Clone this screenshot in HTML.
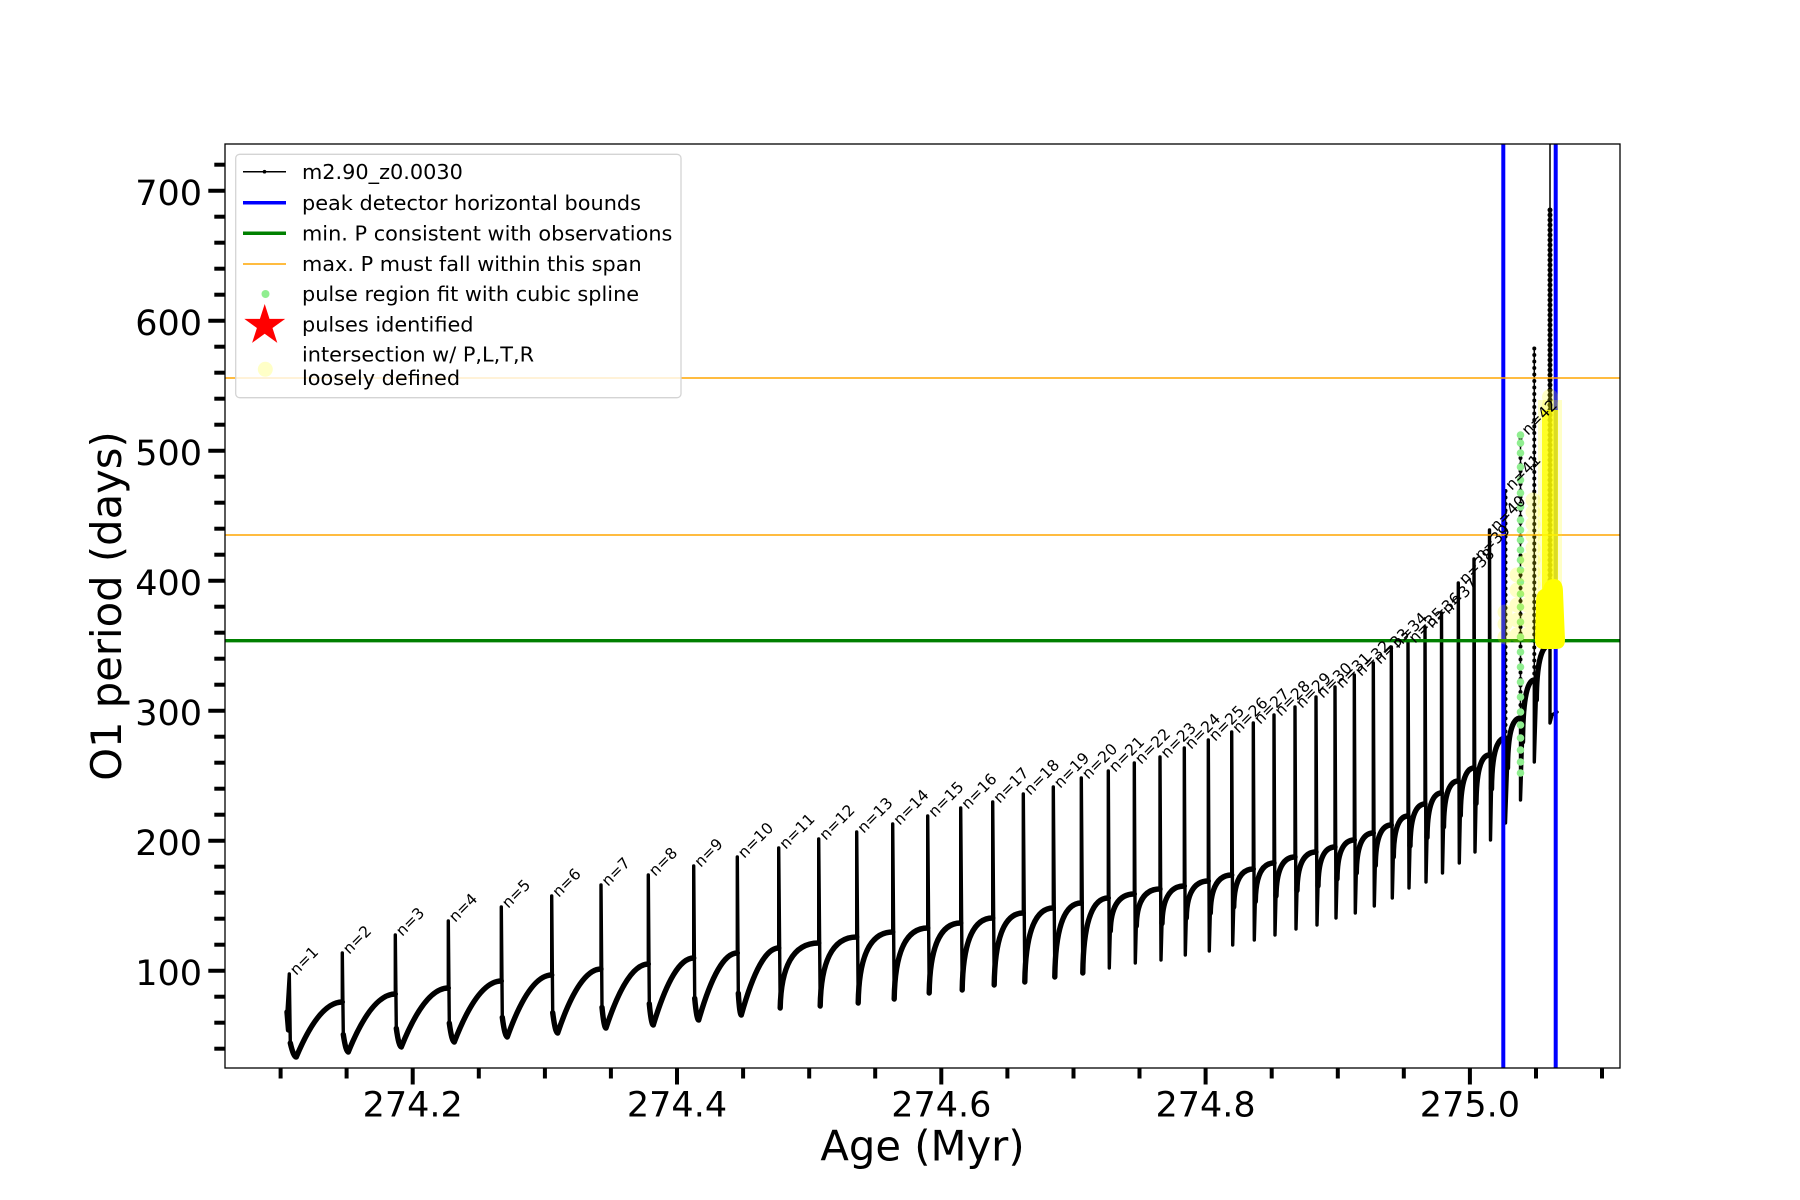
<!DOCTYPE html>
<html>
<head>
<meta charset="utf-8">
<style>
html,body{margin:0;padding:0;background:#fff;}
svg{display:block;}
text{font-family:"DejaVu Sans","Liberation Sans",sans-serif;fill:#000;}
</style>
</head>
<body>
<svg width="1800" height="1200" viewBox="0 0 1800 1200" xmlns="http://www.w3.org/2000/svg">
<defs>
<clipPath id="ax"><rect x="225" y="144" width="1395" height="924"/></clipPath>
</defs>
<rect x="0" y="0" width="1800" height="1200" fill="#fff"/>

<g clip-path="url(#ax)">
<!-- main data path (spikes thinner) -->
<path fill="none" stroke="#000" stroke-width="3.4" stroke-linejoin="round" stroke-linecap="round" d="
M 287,1012
L 289.3,974 L 290.3,1043 Q 293.5,1057 296.3,1057 C 311.6,1020.3 326.9,1002 342.3,1002
L 342.3,953 L 343.3,1034.5 Q 345.9,1052 348.3,1052 C 364,1013.3 379.6,994 395.3,994
L 395.3,935 L 396.3,1028.4 Q 398.9,1047 401.3,1047 C 417,1007.7 432.6,988 448.3,988
L 448.3,921 L 449.3,1023.1 Q 451.9,1042 454.3,1042 C 470,1001.3 485.6,981 501.3,981
L 501.3,907 L 502.3,1017.4 Q 504.9,1037 507.3,1037 C 522.1,995.7 536.9,975 551.7,975
L 551.7,896 L 552.7,1012.7 Q 555.3,1033 557.7,1033 C 572.1,990.3 586.6,969 601,969
L 601,885 L 602,1007.4 Q 604,1028 606,1028 C 620.1,985.3 634.2,964 648.3,964
L 648.3,875 L 649.3,1003.7 Q 651.3,1025 653.3,1025 C 666.8,980.3 680.2,958 693.7,958
L 693.7,866 L 694.7,998.3 Q 696.7,1020 698.7,1020 C 711.6,975.3 724.4,953 737.3,953
L 737.3,857 L 738.3,993.3 Q 739.7,1015 741.3,1015 C 753.8,970.3 766.2,948 778.7,948
L 778.7,848 L 780.2,1008 C 781,969 791.8,943 818.7,943
L 818.7,839 L 820.2,1006 C 820.9,964.6 831.2,937 856.7,937
L 856.7,832 L 858.2,1003 C 858.9,960.4 868.6,932 892.7,932
L 892.7,824 L 894.2,999 C 894.9,956.4 904.3,928 927.7,928
L 927.7,816 L 929.2,993 C 929.8,951 938.7,923 960.7,923
L 960.7,808 L 962.2,990 C 962.8,946.8 971.4,918 992.7,918
L 992.7,802 L 994.2,985 C 994.8,941.8 1002.9,913 1023.3,913
L 1023.3,794 L 1024.8,982 C 1025.4,937.6 1033.4,908 1053.3,908
L 1053.3,787 L 1054.8,977 C 1055.3,932.6 1062.8,903 1081.3,903
L 1081.3,778 L 1082.8,973 C 1083.3,928 1090.5,898 1108.3,898
L 1108.3,771 L 1109.3,968 L 1110.3,931 C 1110.8,908.8 1117.5,894 1134.3,894
L 1134.3,763 L 1135.3,963 L 1136.3,926 C 1136.8,903.8 1143.4,889 1160,889
L 1160,757 L 1161,960 L 1162,923.5 C 1162.4,901.6 1168.7,886 1184.3,886
L 1184.3,748 L 1185.3,955 L 1186.3,918 C 1186.7,895.8 1192.9,881 1208.3,881
L 1208.3,740 L 1209.3,951 L 1210.3,913 C 1210.7,890.2 1216.7,875 1231.7,875
L 1231.7,732 L 1232.7,945 L 1233.7,907 C 1234.1,884.2 1239.6,869 1253.3,869
L 1253.3,723 L 1254.3,940 L 1255.3,901.5 C 1255.7,878.4 1260.9,863 1274,863
L 1274,715 L 1275,935 L 1276,896 C 1276.4,872.6 1281.7,857 1295,857
L 1295,707 L 1296,929 L 1297,890.5 C 1297.4,867.4 1302.7,852 1316,852
L 1316,697 L 1317,925 L 1318,886 C 1318.3,862.6 1323.1,847 1335,847
L 1335,687 L 1336,918 L 1337,879 C 1337.3,855.6 1342.2,840 1354.3,840
L 1354.3,675 L 1355.3,913 L 1356.3,873 C 1356.6,849 1361.4,833 1373.3,833
L 1373.3,663 L 1374.3,906 L 1375.3,865.5 C 1375.6,841.2 1380.1,825 1391.3,825
L 1391.3,647 L 1392.3,898 L 1393.3,857 C 1393.6,832.4 1397.7,816 1408,816
L 1408,642 L 1409,888 L 1410,846 C 1410.3,820.8 1414.5,804 1425,804
L 1425,627 L 1426,882 L 1427,837.5 C 1427.3,810.8 1431.4,793 1441.5,793
L 1441.5,613 L 1442.5,873 L 1443.5,827 C 1443.8,799.4 1447.9,781 1458.3,781
L 1458.3,583 L 1459.3,863 L 1460.3,815.5 C 1460.6,787 1464.4,768 1474,768
L 1474,559 L 1475,852 L 1476,803.5 C 1476.3,774.4 1480.1,755 1489.5,755
L 1489.5,530 L 1490.5,840 L 1491.5,789 C 1491.8,758.4 1495.7,738 1505.5,738
L 1505.5,823 L 1507.5,768 C 1507.8,737 1511.4,718 1520.5,718
L 1520.5,800 L 1522.5,742 C 1522.8,706 1526,680 1534.3,680
L 1534.3,762 L 1536.3,700 C 1536.6,667 1540.5,645 1550,645
L 1550,723 L 1552,715 L 1557,712"/>

<!-- thicker recovery curves overlay -->
<path fill="none" stroke="#000" stroke-width="5.4" stroke-linejoin="round" stroke-linecap="round" d="
M 287,1012 L 288.5,1030
M 290.3,1043 Q 293.5,1057 296.3,1057 C 311.6,1020.3 326.9,1002 342.3,1002
M 343.3,1034.5 Q 345.9,1052 348.3,1052 C 364,1013.3 379.6,994 395.3,994
M 396.3,1028.4 Q 398.9,1047 401.3,1047 C 417,1007.7 432.6,988 448.3,988
M 449.3,1023.1 Q 451.9,1042 454.3,1042 C 470,1001.3 485.6,981 501.3,981
M 502.3,1017.4 Q 504.9,1037 507.3,1037 C 522.1,995.7 536.9,975 551.7,975
M 552.7,1012.7 Q 555.3,1033 557.7,1033 C 572.1,990.3 586.6,969 601,969
M 602,1007.4 Q 604,1028 606,1028 C 620.1,985.3 634.2,964 648.3,964
M 649.3,1003.7 Q 651.3,1025 653.3,1025 C 666.8,980.3 680.2,958 693.7,958
M 694.7,998.3 Q 696.7,1020 698.7,1020 C 711.6,975.3 724.4,953 737.3,953
M 738.3,993.3 Q 739.7,1015 741.3,1015 C 753.8,970.3 766.2,948 778.7,948
M 780.2,1008 C 781,969 791.8,943 818.7,943
M 820.2,1006 C 820.9,964.6 831.2,937 856.7,937
M 858.2,1003 C 858.9,960.4 868.6,932 892.7,932
M 894.2,999 C 894.9,956.4 904.3,928 927.7,928
M 929.2,993 C 929.8,951 938.7,923 960.7,923
M 962.2,990 C 962.8,946.8 971.4,918 992.7,918
M 994.2,985 C 994.8,941.8 1002.9,913 1023.3,913
M 1024.8,982 C 1025.4,937.6 1033.4,908 1053.3,908
M 1054.8,977 C 1055.3,932.6 1062.8,903 1081.3,903
M 1082.8,973 C 1083.3,928 1090.5,898 1108.3,898
M 1110.3,931 C 1110.8,908.8 1117.5,894 1134.3,894
M 1136.3,926 C 1136.8,903.8 1143.4,889 1160,889
M 1162,923.5 C 1162.4,901.6 1168.7,886 1184.3,886
M 1186.3,918 C 1186.7,895.8 1192.9,881 1208.3,881
M 1210.3,913 C 1210.7,890.2 1216.7,875 1231.7,875
M 1233.7,907 C 1234.1,884.2 1239.6,869 1253.3,869
M 1255.3,901.5 C 1255.7,878.4 1260.9,863 1274,863
M 1276,896 C 1276.4,872.6 1281.7,857 1295,857
M 1297,890.5 C 1297.4,867.4 1302.7,852 1316,852
M 1318,886 C 1318.3,862.6 1323.1,847 1335,847
M 1337,879 C 1337.3,855.6 1342.2,840 1354.3,840
M 1356.3,873 C 1356.6,849 1361.4,833 1373.3,833
M 1375.3,865.5 C 1375.6,841.2 1380.1,825 1391.3,825
M 1393.3,857 C 1393.6,832.4 1397.7,816 1408,816
M 1410,846 C 1410.3,820.8 1414.5,804 1425,804
M 1427,837.5 C 1427.3,810.8 1431.4,793 1441.5,793
M 1443.5,827 C 1443.8,799.4 1447.9,781 1458.3,781
M 1460.3,815.5 C 1460.6,787 1464.4,768 1474,768
M 1476,803.5 C 1476.3,774.4 1480.1,755 1489.5,755
M 1491.5,789 C 1491.8,758.4 1495.7,738 1505.5,738
M 1507.5,768 C 1507.8,737 1511.4,718 1520.5,718
M 1522.5,742 C 1522.8,706 1526,680 1534.3,680
M 1536.3,700 C 1536.6,667 1540.5,645 1550,645"/>

<!-- sparse dotted spikes -->
<g fill="none" stroke="#000">
<path stroke-width="1.5" d="M1505.5,738 L1505.5,490 M1520.5,718 L1520.5,435 M1534.3,680 L1534.3,347 M1550,645 L1550,140"/>
<path stroke-width="4" stroke-linecap="round" stroke-dasharray="0 6.5" d="M1505.5,738 L1505.5,490 M1520.5,718 L1520.5,435 M1534.3,680 L1534.3,347"/>
<path stroke-width="3.2" d="M1550,645 L1550,208"/>
<path stroke-width="5" stroke-linecap="round" stroke-dasharray="0 5" d="M1550,645 L1550,208"/>
</g>

<!-- vertical blue lines -->
<line x1="1503.3" y1="140" x2="1503.3" y2="1070" stroke="#0000ff" stroke-width="4"/>
<line x1="1555.7" y1="140" x2="1555.7" y2="1070" stroke="#0000ff" stroke-width="4"/>
<!-- horizontal lines -->
<line x1="225" y1="640.7" x2="1620" y2="640.7" stroke="#008000" stroke-width="3.3"/>
<line x1="225" y1="378" x2="1620" y2="378" stroke="#ffa500" stroke-width="1.6"/>
<line x1="225" y1="535" x2="1620" y2="535" stroke="#ffa500" stroke-width="1.6"/>

<!-- green pulse-region dots -->
<g fill="#90ee90">
<circle cx="1520.5" cy="435" r="3.8"/><circle cx="1520.5" cy="443" r="3.8"/><circle cx="1520.5" cy="453" r="3.8"/>
<circle cx="1520.5" cy="467" r="3.8"/><circle cx="1520.5" cy="480" r="3.8"/><circle cx="1520.5" cy="493" r="3.8"/>
<circle cx="1520.5" cy="507" r="3.8"/><circle cx="1520.5" cy="520" r="3.8"/><circle cx="1520.5" cy="530" r="3.8"/>
<circle cx="1520.5" cy="540" r="3.8"/><circle cx="1520.5" cy="550" r="3.8"/><circle cx="1520.5" cy="560" r="3.8"/>
<circle cx="1520.5" cy="570" r="3.8"/><circle cx="1520.5" cy="582" r="3.8"/><circle cx="1520.5" cy="594" r="3.8"/>
<circle cx="1520.5" cy="607" r="3.8"/><circle cx="1520.5" cy="622" r="3.8"/><circle cx="1520.5" cy="637" r="3.8"/>
<circle cx="1520.5" cy="652" r="3.8"/><circle cx="1520.5" cy="667" r="3.8"/><circle cx="1520.5" cy="682" r="3.8"/>
<circle cx="1520.5" cy="697" r="3.8"/><circle cx="1520.5" cy="712" r="3.8"/><circle cx="1520.5" cy="725" r="3.8"/>
<circle cx="1520.5" cy="738" r="3.8"/><circle cx="1520.5" cy="750" r="3.8"/><circle cx="1520.5" cy="762" r="3.8"/>
<circle cx="1520.5" cy="773" r="3.8"/>
</g>

<!-- yellow intersection markers -->
<g fill="#ffff00">
<g opacity="0.22">
<circle cx="1533" cy="500" r="7.5"/><circle cx="1533" cy="512" r="7.5"/><circle cx="1533" cy="524" r="7.5"/>
<circle cx="1533" cy="536" r="7.5"/><circle cx="1533" cy="548" r="7.5"/><circle cx="1533" cy="560" r="7.5"/>
<circle cx="1533" cy="572" r="7.5"/><circle cx="1533" cy="584" r="7.5"/><circle cx="1533" cy="596" r="7.5"/>
<circle cx="1533" cy="608" r="7.5"/><circle cx="1533" cy="620" r="7.5"/><circle cx="1533" cy="632" r="7.5"/>
<circle cx="1527" cy="560" r="7.5"/><circle cx="1527" cy="575" r="7.5"/><circle cx="1527" cy="590" r="7.5"/>
<circle cx="1527" cy="605" r="7.5"/><circle cx="1527" cy="620" r="7.5"/><circle cx="1527" cy="635" r="7.5"/>
<circle cx="1517" cy="575" r="7.5"/><circle cx="1517" cy="590" r="7.5"/><circle cx="1517" cy="605" r="7.5"/>
<circle cx="1517" cy="620" r="7.5"/><circle cx="1517" cy="635" r="7.5"/>
<circle cx="1505" cy="612" r="7.5"/><circle cx="1505" cy="624" r="7.5"/><circle cx="1505" cy="637" r="7.5"/>
<circle cx="1550" cy="397" r="8"/><circle cx="1550" cy="405" r="8"/>
</g>
<rect x="1538" y="400" width="24" height="200" opacity="0.22"/>
<rect x="1542" y="410" width="16" height="185" opacity="0.82"/>
<path d="M1536,602 Q1536,591 1543,589 Q1545,579 1554,579 Q1563,579 1563,592 L1565,640 Q1565,649 1556,649 L1544,649 Q1535,649 1535,640 Z"/>
</g>

<!-- pulse labels -->
<g font-size="15.5">
<text transform="translate(296.3,976) rotate(-45)">n=1</text>
<text transform="translate(349.3,955) rotate(-45)">n=2</text>
<text transform="translate(402.3,937) rotate(-45)">n=3</text>
<text transform="translate(455.3,923) rotate(-45)">n=4</text>
<text transform="translate(508.3,909) rotate(-45)">n=5</text>
<text transform="translate(558.7,898) rotate(-45)">n=6</text>
<text transform="translate(608,887) rotate(-45)">n=7</text>
<text transform="translate(655.3,877) rotate(-45)">n=8</text>
<text transform="translate(700.7,868) rotate(-45)">n=9</text>
<text transform="translate(744.3,859) rotate(-45)">n=10</text>
<text transform="translate(785.7,850) rotate(-45)">n=11</text>
<text transform="translate(825.7,841) rotate(-45)">n=12</text>
<text transform="translate(863.7,834) rotate(-45)">n=13</text>
<text transform="translate(899.7,826) rotate(-45)">n=14</text>
<text transform="translate(934.7,818) rotate(-45)">n=15</text>
<text transform="translate(967.7,810) rotate(-45)">n=16</text>
<text transform="translate(999.7,804) rotate(-45)">n=17</text>
<text transform="translate(1030.3,796) rotate(-45)">n=18</text>
<text transform="translate(1060.3,789) rotate(-45)">n=19</text>
<text transform="translate(1088.3,780) rotate(-45)">n=20</text>
<text transform="translate(1115.3,773) rotate(-45)">n=21</text>
<text transform="translate(1141.3,765) rotate(-45)">n=22</text>
<text transform="translate(1167,759) rotate(-45)">n=23</text>
<text transform="translate(1191.3,750) rotate(-45)">n=24</text>
<text transform="translate(1215.3,742) rotate(-45)">n=25</text>
<text transform="translate(1238.7,734) rotate(-45)">n=26</text>
<text transform="translate(1260.3,725) rotate(-45)">n=27</text>
<text transform="translate(1281,717) rotate(-45)">n=28</text>
<text transform="translate(1302,709) rotate(-45)">n=29</text>
<text transform="translate(1323,699) rotate(-45)">n=30</text>
<text transform="translate(1342,689) rotate(-45)">n=31</text>
<text transform="translate(1361.3,677) rotate(-45)">n=32</text>
<text transform="translate(1380.3,665) rotate(-45)">n=33</text>
<text transform="translate(1398.3,649) rotate(-45)">n=34</text>
<text transform="translate(1415,644) rotate(-45)">n=35</text>
<text transform="translate(1432,629) rotate(-45)">n=36</text>
<text transform="translate(1448.5,615) rotate(-45)">n=37</text>
<text transform="translate(1465.3,585) rotate(-45)">n=38</text>
<text transform="translate(1481,561) rotate(-45)">n=39</text>
<text transform="translate(1496.5,532) rotate(-45)">n=40</text>
<text transform="translate(1511.7,491) rotate(-45)">n=41</text>
<text transform="translate(1528,436) rotate(-45)">n=42</text>
</g>
</g>

<!-- axes frame -->
<rect x="225" y="144" width="1395" height="924" fill="none" stroke="#000" stroke-width="1.3"/>

<!-- y ticks -->
<g stroke="#000" stroke-width="4">
<line x1="208.3" y1="970.7" x2="225" y2="970.7"/>
<line x1="208.3" y1="840.7" x2="225" y2="840.7"/>
<line x1="208.3" y1="710.7" x2="225" y2="710.7"/>
<line x1="208.3" y1="580.7" x2="225" y2="580.7"/>
<line x1="208.3" y1="450.7" x2="225" y2="450.7"/>
<line x1="208.3" y1="320.7" x2="225" y2="320.7"/>
<line x1="208.3" y1="190.7" x2="225" y2="190.7"/>
</g>
<g stroke="#000" stroke-width="4">
<line x1="214.3" y1="1048.7" x2="225" y2="1048.7"/>
<line x1="214.3" y1="1022.7" x2="225" y2="1022.7"/>
<line x1="214.3" y1="996.7" x2="225" y2="996.7"/>
<line x1="214.3" y1="944.7" x2="225" y2="944.7"/>
<line x1="214.3" y1="918.7" x2="225" y2="918.7"/>
<line x1="214.3" y1="892.7" x2="225" y2="892.7"/>
<line x1="214.3" y1="866.7" x2="225" y2="866.7"/>
<line x1="214.3" y1="814.7" x2="225" y2="814.7"/>
<line x1="214.3" y1="788.7" x2="225" y2="788.7"/>
<line x1="214.3" y1="762.7" x2="225" y2="762.7"/>
<line x1="214.3" y1="736.7" x2="225" y2="736.7"/>
<line x1="214.3" y1="684.7" x2="225" y2="684.7"/>
<line x1="214.3" y1="658.7" x2="225" y2="658.7"/>
<line x1="214.3" y1="632.7" x2="225" y2="632.7"/>
<line x1="214.3" y1="606.7" x2="225" y2="606.7"/>
<line x1="214.3" y1="554.7" x2="225" y2="554.7"/>
<line x1="214.3" y1="528.7" x2="225" y2="528.7"/>
<line x1="214.3" y1="502.7" x2="225" y2="502.7"/>
<line x1="214.3" y1="476.7" x2="225" y2="476.7"/>
<line x1="214.3" y1="424.7" x2="225" y2="424.7"/>
<line x1="214.3" y1="398.7" x2="225" y2="398.7"/>
<line x1="214.3" y1="372.7" x2="225" y2="372.7"/>
<line x1="214.3" y1="346.7" x2="225" y2="346.7"/>
<line x1="214.3" y1="294.7" x2="225" y2="294.7"/>
<line x1="214.3" y1="268.7" x2="225" y2="268.7"/>
<line x1="214.3" y1="242.7" x2="225" y2="242.7"/>
<line x1="214.3" y1="216.7" x2="225" y2="216.7"/>
<line x1="214.3" y1="164.7" x2="225" y2="164.7"/>
</g>

<!-- x ticks -->
<g stroke="#000" stroke-width="4">
<line x1="412.7" y1="1068" x2="412.7" y2="1084.5"/>
<line x1="677" y1="1068" x2="677" y2="1084.5"/>
<line x1="941.3" y1="1068" x2="941.3" y2="1084.5"/>
<line x1="1205.6" y1="1068" x2="1205.6" y2="1084.5"/>
<line x1="1469.9" y1="1068" x2="1469.9" y2="1084.5"/>
<line x1="280.6" y1="1068" x2="280.6" y2="1078.5"/>
<line x1="346.6" y1="1068" x2="346.6" y2="1078.5"/>
<line x1="478.8" y1="1068" x2="478.8" y2="1078.5"/>
<line x1="544.9" y1="1068" x2="544.9" y2="1078.5"/>
<line x1="610.9" y1="1068" x2="610.9" y2="1078.5"/>
<line x1="743.1" y1="1068" x2="743.1" y2="1078.5"/>
<line x1="809.2" y1="1068" x2="809.2" y2="1078.5"/>
<line x1="875.2" y1="1068" x2="875.2" y2="1078.5"/>
<line x1="1007.4" y1="1068" x2="1007.4" y2="1078.5"/>
<line x1="1073.5" y1="1068" x2="1073.5" y2="1078.5"/>
<line x1="1139.5" y1="1068" x2="1139.5" y2="1078.5"/>
<line x1="1271.7" y1="1068" x2="1271.7" y2="1078.5"/>
<line x1="1337.8" y1="1068" x2="1337.8" y2="1078.5"/>
<line x1="1403.8" y1="1068" x2="1403.8" y2="1078.5"/>
<line x1="1536" y1="1068" x2="1536" y2="1078.5"/>
<line x1="1602" y1="1068" x2="1602" y2="1078.5"/>
</g>

<!-- tick labels -->
<g font-size="35" text-anchor="end">
<text x="202" y="985">100</text>
<text x="202" y="855">200</text>
<text x="202" y="725">300</text>
<text x="202" y="595">400</text>
<text x="202" y="465">500</text>
<text x="202" y="335">600</text>
<text x="202" y="205">700</text>
</g>
<g font-size="35" text-anchor="middle">
<text x="412.7" y="1116.7">274.2</text>
<text x="677" y="1116.7">274.4</text>
<text x="941.3" y="1116.7">274.6</text>
<text x="1205.6" y="1116.7">274.8</text>
<text x="1469.9" y="1116.7">275.0</text>
</g>

<!-- axis labels -->
<text x="922.5" y="1160.5" font-size="41.7" text-anchor="middle">Age (Myr)</text>
<text transform="translate(121,606) rotate(-90)" font-size="41.7" text-anchor="middle">O1 period (days)</text>

<!-- legend -->
<rect x="235.7" y="154.3" width="445.3" height="243.4" rx="4" ry="4" fill="#fff" fill-opacity="0.8" stroke="#d4d4d4" stroke-width="1.3"/>
<line x1="243" y1="171.7" x2="286" y2="171.7" stroke="#000" stroke-width="1.5"/>
<circle cx="264.5" cy="171.7" r="1.8" fill="#000"/>
<line x1="243" y1="202.7" x2="286" y2="202.7" stroke="#0000ff" stroke-width="3.5"/>
<line x1="243" y1="233.3" x2="286" y2="233.3" stroke="#008000" stroke-width="3.5"/>
<line x1="243" y1="264" x2="286" y2="264" stroke="#ffa500" stroke-width="1.5"/>
<circle cx="265.5" cy="294" r="4" fill="#90ee90"/>
<polygon fill="#ff0000" points="264.7,304 269.5,318.9 285.2,318.9 272.5,328 277.3,342.9 264.7,333.7 252.1,342.9 256.9,328 244.3,318.9 259.9,318.9"/>
<circle cx="265.3" cy="369.3" r="7.5" fill="#ffff00" fill-opacity="0.22"/>
<g font-size="20.83">
<text x="302" y="179">m2.90_z0.0030</text>
<text x="302" y="210">peak detector horizontal bounds</text>
<text x="302" y="240.7">min. P consistent with observations</text>
<text x="302" y="271">max. P must fall within this span</text>
<text x="302" y="301">pulse region fit with cubic spline</text>
<text x="302" y="331.7">pulses identified</text>
<text x="302" y="361.7">intersection w/ P,L,T,R</text>
<text x="302" y="385">loosely defined</text>
</g>
</svg>
</body>
</html>
